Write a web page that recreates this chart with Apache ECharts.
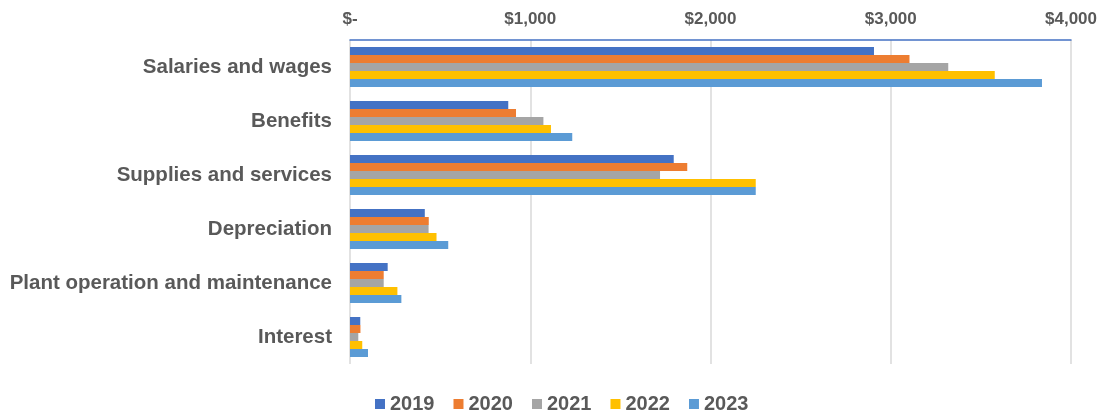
<!DOCTYPE html>
<html>
<head>
<meta charset="utf-8">
<script src="https://cdn.jsdelivr.net/npm/echarts@6/dist/echarts.min.js"></script>
<style>
  html, body { margin: 0; padding: 0; background: #fff; }
  #chart { width: 1100px; height: 414px; }
</style>
</head>
<body>
<div id="chart"></div>
<script>
// 数据
var categories = ["Salaries and wages", "Benefits", "Supplies and services", "Depreciation", "Plant operation and maintenance", "Interest"];
var years = ["2019", "2020", "2021", "2022", "2023"];
var v2019 = [2907, 878, 1796, 415, 209, 57];
var v2020 = [3104, 921, 1871, 437, 187, 58];
var v2021 = [3319, 1073, 1720, 436, 187, 46];
var v2022 = [3577, 1115, 2251, 480, 263, 68];
var v2023 = [3839, 1233, 2251, 545, 285, 100];
var xTicks = [0, 1000, 2000, 3000, 4000];

var colors = ["#4472C4", "#ED7D31", "#A5A5A5", "#FFC000", "#5B9BD5"];
var values = [v2019, v2020, v2021, v2022, v2023];
var font = "'Liberation Sans', Arial, sans-serif";

var myChart = echarts.init(document.getElementById("chart"));

var option = {
    animation: false,
    color: colors,
    grid: { left: 350, right: 29, top: 40, bottom: 50 },
    legend: {
        data: years,
        left: 370,
        top: 389,
        icon: "rect",
        itemWidth: 10,
        itemHeight: 10,
        itemGap: 19,
        textStyle: { color: "#595959", fontSize: 20, fontWeight: "bold", fontFamily: font }
    },
    xAxis: {
        type: "value",
        position: "top",
        min: xTicks[0],
        max: xTicks[xTicks.length - 1],
        interval: 1000,
        axisLine: { show: true, lineStyle: { color: "#4472C4", width: 1.5 } },
        axisTick: { show: false },
        axisLabel: {
            margin: 12,
            color: "#595959",
            fontSize: 17,
            fontWeight: "bold",
            fontFamily: font,
            formatter: function (v) {
                return v === 0 ? "$-" : "$" + v.toLocaleString("en-US");
            }
        },
        splitLine: { show: true, lineStyle: { color: "#D9D9D9", width: 1.5 } }
    },
    yAxis: {
        type: "category",
        data: categories,
        inverse: true,
        axisLine: { show: false },
        axisTick: { show: false },
        axisLabel: {
            margin: 18,
            color: "#595959",
            fontSize: 20.5,
            fontWeight: "bold",
            fontFamily: font
        }
    },
    series: years.map(function (y, i) {
        return {
            name: y,
            type: "bar",
            data: values[i],
            barGap: "0%",
            barCategoryGap: "26%"
        };
    })
};

myChart.setOption(option);
</script>
</body>
</html>
